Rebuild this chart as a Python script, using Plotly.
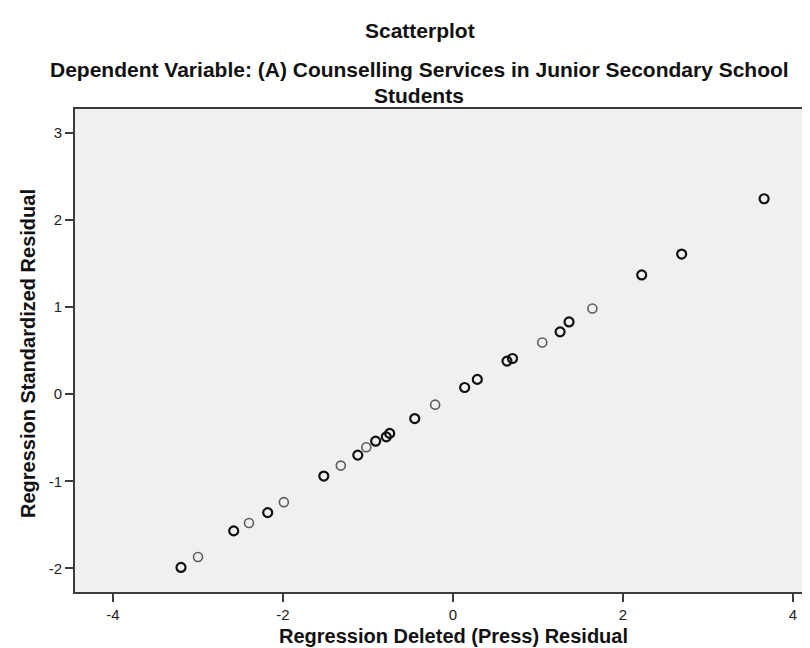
import plotly.graph_objects as go

# Data (x: deleted residual, y: standardized residual)
# Darker markers (overlapping cases)
dark_x = [3.66, 2.69, 2.22, 1.365, 1.26, 0.70, 0.635, 0.286, 0.137, -0.45,
          -0.745, -0.785, -0.91, -1.12, -1.52, -2.18, -2.58, -3.20]
dark_y = [2.245, 1.61, 1.37, 0.83, 0.716, 0.41, 0.38, 0.17, 0.077, -0.28,
          -0.45, -0.49, -0.54, -0.70, -0.94, -1.36, -1.57, -1.99]
# Lighter markers (single cases)
light_x = [1.64, 1.05, -0.21, -1.02, -1.32, -1.99, -2.40, -3.00]
light_y = [0.985, 0.594, -0.12, -0.61, -0.82, -1.24, -1.48, -1.87]

x_ticks = [-4, -2, 0, 2, 4]
x_tick_labels = ["-4", "-2", "0", "2", "4"]
y_ticks = [-2, -1, 0, 1, 2, 3]
y_tick_labels = ["-2", "-1", "0", "1", "2", "3"]

title = "Scatterplot"
subtitle_1 = "Dependent Variable: (A) Counselling Services in Junior Secondary School"
subtitle_2 = "Students"
x_title = "Regression Deleted (Press) Residual"
y_title = "Regression Standardized Residual"

W, H = 810, 648
L, R, T, B = 67, 0, 101, 64
pw, ph = W - L - R, H - T - B

def px_x(p):
    return (p - L) / pw

def px_y(p):
    return (H - B - p) / ph

FONT = "Liberation Sans, Arial, sans-serif"

fig = go.Figure()
fig.add_trace(go.Scatter(
    x=light_x, y=light_y, mode="markers", showlegend=False,
    marker=dict(symbol="circle-open", size=9, color="#5c5c5c",
                line=dict(width=1.6, color="#5c5c5c")),
))
fig.add_trace(go.Scatter(
    x=dark_x, y=dark_y, mode="markers", showlegend=False,
    marker=dict(symbol="circle-open", size=9, color="#111111",
                line=dict(width=2.2, color="#111111")),
))

axis_common = dict(
    showgrid=False, zeroline=False, showline=True, linecolor="#3c3c3c",
    linewidth=1.6, ticks="outside", ticklen=8, tickwidth=1.5,
    tickcolor="#3c3c3c", tickfont=dict(family=FONT, size=15, color="#222222"),
)

fig.update_layout(
    width=W, height=H,
    margin=dict(l=L, r=R, t=T, b=B),
    paper_bgcolor="white", plot_bgcolor="#f0f0f0",
    xaxis=dict(range=[-4.447, 4.294], tickvals=x_ticks, ticktext=x_tick_labels,
               mirror=True, **axis_common),
    yaxis=dict(range=[-2.272, 3.276], tickvals=y_ticks, ticktext=y_tick_labels,
               mirror=False, **axis_common),
    font=dict(family=FONT),
)

ann = [
    dict(text=title, x=px_x(412), y=px_y(22), size=21),
    dict(text=subtitle_1, x=px_x(411), y=px_y(62), size=21),
    dict(text=subtitle_2, x=px_x(411), y=px_y(87), size=21),
    dict(text=x_title, x=px_x(445), y=px_y(628), size=20),
]
for a in ann:
    fig.add_annotation(
        text="<b>%s</b>" % a["text"], x=a["x"], y=a["y"], xref="paper", yref="paper",
        xanchor="center", yanchor="middle", showarrow=False,
        font=dict(family=FONT, size=a["size"], color="#111111"),
    )
fig.add_annotation(
    text="<b>%s</b>" % y_title, x=px_x(20), y=px_y(346), xref="paper", yref="paper",
    xanchor="center", yanchor="middle", showarrow=False, textangle=-90,
    font=dict(family=FONT, size=20, color="#111111"),
)

fig.write_html("out.html")
